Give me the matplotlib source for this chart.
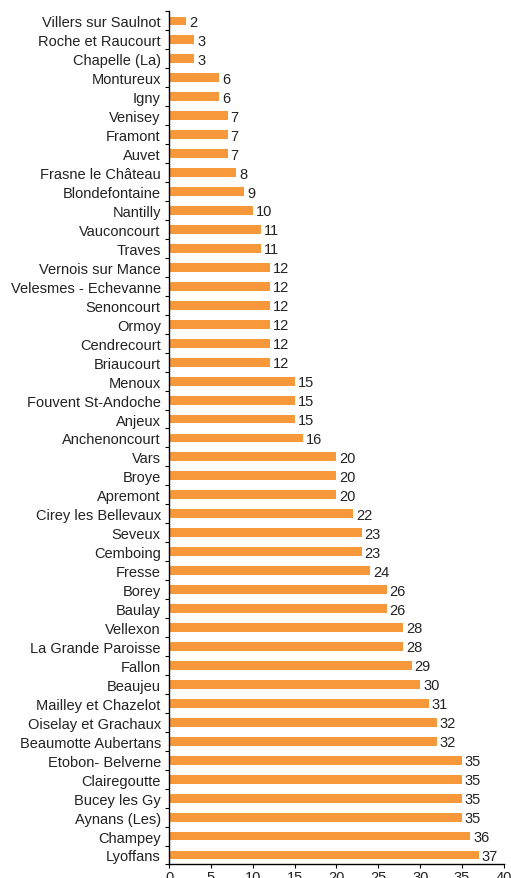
import numpy as np
import matplotlib
matplotlib.use("Agg")
import matplotlib.pyplot as plt
from matplotlib.ticker import FixedLocator, NullFormatter

plt.rcParams['font.family'] = ['Liberation Sans', 'DejaVu Sans']

communes = ['Villers sur Saulnot', 'Roche et Raucourt', 'Chapelle (La)', 'Montureux',
            'Igny', 'Venisey', 'Framont', 'Auvet', 'Frasne le Château', 'Blondefontaine',
            'Nantilly', 'Vauconcourt', 'Traves', 'Vernois sur Mance', 'Velesmes - Echevanne',
            'Senoncourt', 'Ormoy', 'Cendrecourt', 'Briaucourt', 'Menoux',
            'Fouvent St-Andoche', 'Anjeux', 'Anchenoncourt', 'Vars', 'Broye', 'Apremont',
            'Cirey les Bellevaux', 'Seveux', 'Cemboing', 'Fresse', 'Borey', 'Baulay',
            'Vellexon', 'La Grande Paroisse', 'Fallon', 'Beaujeu', 'Mailley et Chazelot',
            'Oiselay et Grachaux', 'Beaumotte Aubertans', 'Etobon- Belverne',
            'Clairegoutte', 'Bucey les Gy', 'Aynans (Les)', 'Champey', 'Lyoffans']
valeurs = [2, 3, 3, 6, 6, 7, 7, 7, 8, 9, 10, 11, 11, 12, 12, 12, 12, 12, 12, 15,
           15, 15, 16, 20, 20, 20, 22, 23, 23, 24, 26, 26, 28, 28, 29, 30, 31,
           32, 32, 35, 35, 35, 35, 36, 37]
xticks = [0, 5, 10, 15, 20, 25, 30, 35, 40]

n = len(communes)
y = np.arange(n)
fs = 10.5

fig = plt.figure(figsize=(5.11, 8.79), dpi=100)
ax = fig.add_axes([0.331, 0.0154, 0.655, 0.9704])

ax.barh(y, valeurs, height=0.47, color='#F7993A', zorder=2)
for yi, v in zip(y, valeurs):
    ax.text(v + 0.35, yi + 0.05, str(v), va='center', ha='left', fontsize=fs, color='#222222')

ax.set_ylim(n - 0.5, -0.5)
ax.set_xlim(0, 40)
ax.set_yticks(y)
ax.set_yticklabels(communes, fontsize=fs, color='#222222')
ax.tick_params(axis='y', which='major', length=0, pad=6)
ax.yaxis.set_minor_locator(FixedLocator(np.arange(n + 1) - 0.5))
ax.yaxis.set_minor_formatter(NullFormatter())
ax.tick_params(axis='y', which='minor', length=3, width=0.8, direction='out')
ax.set_xticks(xticks)
ax.set_xticklabels([str(t) for t in xticks], fontsize=fs, color='#222222')
ax.tick_params(axis='x', length=3, width=0.8, direction='out', pad=1)

for s in ['top', 'right']:
    ax.spines[s].set_visible(False)
for s in ['left', 'bottom']:
    ax.spines[s].set_linewidth(1.0)
    ax.spines[s].set_color('black')

fig.savefig('out.png', dpi=100)
